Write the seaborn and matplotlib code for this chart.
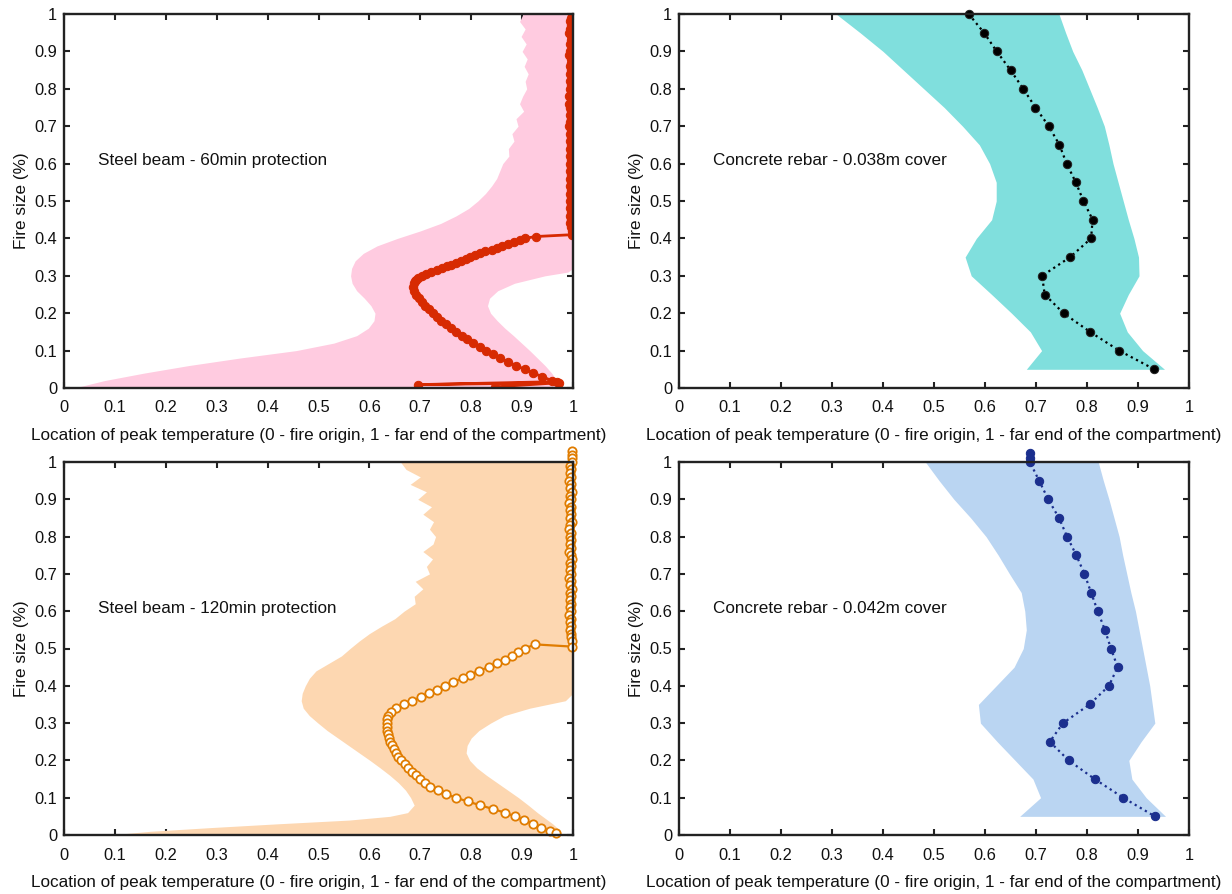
import matplotlib
matplotlib.use("Agg")
import matplotlib.pyplot as plt
import seaborn as sns

# ---------------- data ----------------
tick_vals = [0, 0.1, 0.2, 0.3, 0.4, 0.5, 0.6, 0.7, 0.8, 0.9, 1.0]
tick_labels = ["0", "0.1", "0.2", "0.3", "0.4", "0.5", "0.6", "0.7", "0.8", "0.9", "1"]

xlabel_text = "Location of peak temperature (0 - fire origin, 1 - far end of the compartment)"
ylabel_text = "Fire size (%)"
titles = ["Steel beam - 60min protection", "Concrete rebar - 0.038m cover",
          "Steel beam - 120min protection", "Concrete rebar - 0.042m cover"]

# Steel beam 60 min: mean location
s60_y = [1.00, 0.99, 0.98, 0.97, 0.96, 0.95, 0.94, 0.93, 0.92, 0.91,
         0.90, 0.89, 0.88, 0.87, 0.86, 0.85, 0.84, 0.83, 0.82, 0.81,
         0.80, 0.79, 0.78, 0.77, 0.76, 0.75, 0.74, 0.73, 0.72, 0.71,
         0.70, 0.69, 0.68, 0.67, 0.66, 0.65, 0.64, 0.63, 0.62, 0.61,
         0.60, 0.59, 0.58, 0.57, 0.56, 0.55, 0.54, 0.53, 0.52, 0.51,
         0.50, 0.49, 0.48, 0.47, 0.46, 0.45, 0.44, 0.43, 0.42, 0.41,
         0.405, 0.400, 0.395, 0.390, 0.385, 0.380, 0.375, 0.370, 0.365, 0.360,
         0.355, 0.350, 0.345, 0.340, 0.335, 0.330, 0.325, 0.320, 0.315, 0.310,
         0.305, 0.300, 0.295, 0.290, 0.285, 0.280,
         0.27, 0.26, 0.25, 0.24, 0.23, 0.22, 0.21, 0.20, 0.19, 0.18,
         0.17, 0.16, 0.15, 0.14, 0.13, 0.12, 0.11, 0.10, 0.09, 0.08,
         0.07, 0.06, 0.05, 0.04, 0.03, 0.02,
         0.017, 0.009, 0.014, 0.003]
s60_x = [0.999, 0.996, 0.994, 0.997, 0.995, 0.993, 0.997, 0.996, 0.994, 0.998,
         0.995, 0.993, 0.996, 0.997, 0.994, 0.996, 0.995, 0.998, 0.994, 0.996,
         0.995, 0.997, 0.993, 0.996, 0.992, 0.995, 0.997, 0.994, 0.996, 0.995,
         0.993, 0.997, 0.995, 0.996, 0.994, 0.997, 0.995, 0.996, 0.994, 0.997,
         0.995, 0.996, 0.994, 0.997, 0.995, 0.996, 0.994, 0.997, 0.995, 0.996,
         0.994, 0.997, 0.995, 0.996, 0.994, 0.997, 0.995, 0.996, 0.998, 0.999,
         0.927, 0.905, 0.895, 0.885, 0.872, 0.860, 0.850, 0.840, 0.828, 0.818,
         0.808, 0.798, 0.790, 0.780, 0.770, 0.760, 0.752, 0.742, 0.732, 0.722,
         0.712, 0.704, 0.696, 0.692, 0.689, 0.687,
         0.686, 0.688, 0.692, 0.697, 0.703, 0.710, 0.717, 0.724, 0.732, 0.741,
         0.750, 0.760, 0.770, 0.781, 0.792, 0.804, 0.817, 0.830, 0.843, 0.857,
         0.872, 0.888, 0.905, 0.922, 0.940, 0.958,
         0.969, 0.695, 0.972, 0.846]

# Steel beam 60 min: band of locations
s60_band_y = [1.00, 0.98, 0.96, 0.94, 0.92, 0.90, 0.88, 0.86, 0.84, 0.82,
              0.80, 0.78, 0.76, 0.74, 0.72, 0.70, 0.68, 0.66, 0.64, 0.62,
              0.60, 0.58, 0.56, 0.54, 0.52, 0.50, 0.48, 0.46, 0.44, 0.42,
              0.40, 0.38, 0.36, 0.34, 0.32, 0.31, 0.30, 0.28, 0.26, 0.24,
              0.22, 0.20, 0.18, 0.16, 0.14, 0.12, 0.10, 0.08, 0.06, 0.04,
              0.02, 0.00]
s60_band_lo = [0.902, 0.895, 0.906, 0.898, 0.908, 0.900, 0.910, 0.904, 0.912, 0.906,
               0.909, 0.901, 0.895, 0.903, 0.888, 0.892, 0.880, 0.884, 0.873, 0.874,
               0.862, 0.856, 0.850, 0.840, 0.828, 0.813, 0.795, 0.770, 0.740, 0.700,
               0.655, 0.615, 0.588, 0.572, 0.565, 0.564, 0.563, 0.566, 0.575, 0.590,
               0.603, 0.611, 0.609, 0.598, 0.575, 0.530, 0.456, 0.345, 0.245, 0.158,
               0.080, 0.020]
s60_band_hi = [1.0, 1.0, 1.0, 1.0, 1.0, 1.0, 1.0, 1.0, 1.0, 1.0,
               1.0, 1.0, 1.0, 1.0, 1.0, 1.0, 1.0, 1.0, 1.0, 1.0,
               1.0, 1.0, 1.0, 1.0, 1.0, 1.0, 1.0, 1.0, 1.0, 1.0,
               1.0, 1.0, 1.0, 1.0, 1.0, 0.990, 0.945, 0.885, 0.852, 0.836,
               0.832, 0.838, 0.851, 0.866, 0.883, 0.899, 0.915, 0.930, 0.945, 0.958,
               0.968, 0.972]

# Steel beam 120 min: mean location
s120_y = [1.03, 1.02, 1.01, 1.00, 0.99, 0.98, 0.97, 0.96, 0.95, 0.94,
          0.93, 0.92, 0.91, 0.90, 0.89, 0.88, 0.87, 0.86, 0.85, 0.84,
          0.83, 0.82, 0.81, 0.80, 0.79, 0.78, 0.77, 0.76, 0.75, 0.74,
          0.73, 0.72, 0.71, 0.70, 0.69, 0.68, 0.67, 0.66, 0.65, 0.64,
          0.63, 0.62, 0.61, 0.60, 0.59, 0.58, 0.57, 0.56, 0.55, 0.54,
          0.53, 0.52, 0.505,
          0.511, 0.50, 0.49, 0.48, 0.47, 0.46, 0.45, 0.44, 0.43, 0.42,
          0.41, 0.40, 0.39, 0.38, 0.37, 0.36, 0.35, 0.34, 0.33, 0.32,
          0.31, 0.30, 0.29, 0.28, 0.27, 0.26, 0.25, 0.24, 0.23, 0.22,
          0.21, 0.20, 0.19, 0.18, 0.17, 0.16, 0.15, 0.14, 0.13, 0.12,
          0.11, 0.10, 0.09, 0.08, 0.07, 0.06, 0.05, 0.04, 0.03, 0.02,
          0.01, 0.005]
s120_x = [0.999, 0.999, 0.999, 0.998, 0.995, 0.997, 0.994, 0.996, 0.993, 0.997,
          0.995, 0.998, 0.994, 0.996, 0.993, 0.997, 0.995, 0.996, 0.994, 0.998,
          0.995, 0.993, 0.997, 0.995, 0.996, 0.994, 0.997, 0.993, 0.996, 0.998,
          0.994, 0.996, 0.995, 0.997, 0.993, 0.996, 0.994, 0.998, 0.995, 0.996,
          0.994, 0.997, 0.995, 0.996, 0.993, 0.997, 0.995, 0.996, 0.994, 0.997,
          0.996, 0.998, 0.999,
          0.926, 0.905, 0.892, 0.880, 0.866, 0.851, 0.834, 0.815, 0.798, 0.783,
          0.764, 0.748, 0.733, 0.718, 0.702, 0.684, 0.668, 0.652, 0.642, 0.637,
          0.635, 0.634, 0.634, 0.635, 0.636, 0.638, 0.641, 0.644, 0.648, 0.652,
          0.657, 0.663, 0.669, 0.676, 0.684, 0.692, 0.700, 0.710, 0.720, 0.734,
          0.750, 0.770, 0.793, 0.817, 0.842, 0.866, 0.886, 0.904, 0.921, 0.938,
          0.955, 0.966]

# Steel beam 120 min: band of locations
s120_band_y = [1.00, 0.98, 0.96, 0.94, 0.92, 0.90, 0.88, 0.86, 0.84, 0.82,
               0.80, 0.78, 0.76, 0.74, 0.72, 0.70, 0.68, 0.66, 0.64, 0.62,
               0.60, 0.58, 0.56, 0.54, 0.52, 0.50, 0.48, 0.46, 0.44, 0.42,
               0.40, 0.38, 0.36, 0.34, 0.32, 0.30, 0.28, 0.26, 0.24, 0.22,
               0.20, 0.18, 0.16, 0.14, 0.12, 0.10, 0.08, 0.06, 0.05, 0.04,
               0.03, 0.02, 0.01, 0.00]
s120_band_lo = [0.661, 0.672, 0.700, 0.680, 0.712, 0.695, 0.722, 0.705, 0.726, 0.718,
                0.730, 0.725, 0.705, 0.724, 0.712, 0.718, 0.690, 0.705, 0.688, 0.690,
                0.668, 0.650, 0.624, 0.600, 0.580, 0.562, 0.545, 0.520, 0.495, 0.482,
                0.474, 0.468, 0.466, 0.470, 0.482, 0.499, 0.517, 0.538, 0.559, 0.580,
                0.601, 0.621, 0.640, 0.657, 0.671, 0.681, 0.688, 0.675, 0.640, 0.560,
                0.420, 0.290, 0.170, 0.090]
s120_band_hi = [1.0, 1.0, 1.0, 1.0, 1.0, 1.0, 1.0, 1.0, 1.0, 1.0,
                1.0, 1.0, 1.0, 1.0, 1.0, 1.0, 1.0, 1.0, 1.0, 1.0,
                1.0, 1.0, 1.0, 1.0, 1.0, 1.0, 1.0, 1.0, 1.0, 1.0,
                1.0, 1.0, 0.985, 0.915, 0.865, 0.838, 0.815, 0.800, 0.792, 0.790,
                0.797, 0.811, 0.830, 0.851, 0.872, 0.893, 0.912, 0.930, 0.940, 0.950,
                0.960, 0.968, 0.975, 0.979]

# Concrete rebar, 0.038 m cover
c038_y = [1.00, 0.95, 0.90, 0.85, 0.80, 0.75, 0.70, 0.65, 0.60, 0.55,
          0.50, 0.45, 0.40, 0.35, 0.30, 0.25, 0.20, 0.15, 0.10, 0.05]
c038_x = [0.568, 0.598, 0.623, 0.650, 0.675, 0.699, 0.725, 0.746, 0.760, 0.778,
          0.793, 0.811, 0.808, 0.767, 0.712, 0.717, 0.754, 0.806, 0.863, 0.932]
c038_lo = [0.308, 0.355, 0.400, 0.440, 0.480, 0.520, 0.556, 0.589, 0.609, 0.622,
           0.622, 0.613, 0.583, 0.561, 0.573, 0.613, 0.652, 0.689, 0.711, 0.681]
c038_hi = [0.745, 0.758, 0.772, 0.790, 0.805, 0.820, 0.834, 0.843, 0.851, 0.861,
           0.871, 0.881, 0.892, 0.901, 0.902, 0.881, 0.864, 0.879, 0.909, 0.952]

# Concrete rebar, 0.042 m cover
c042_y = [1.025, 1.012, 1.00, 0.95, 0.90, 0.85, 0.80, 0.75, 0.70, 0.65, 0.60, 0.55,
          0.50, 0.45, 0.40, 0.35, 0.30, 0.25, 0.20, 0.15, 0.10, 0.05]
c042_x = [0.688, 0.688, 0.688, 0.706, 0.724, 0.745, 0.761, 0.779, 0.795, 0.808, 0.821, 0.835,
          0.847, 0.860, 0.843, 0.805, 0.753, 0.727, 0.764, 0.815, 0.871, 0.933]
c042_band_y = [1.00, 0.95, 0.90, 0.85, 0.80, 0.75, 0.70, 0.65, 0.60, 0.55,
               0.50, 0.45, 0.40, 0.35, 0.30, 0.25, 0.20, 0.15, 0.10, 0.05]
c042_lo = [0.483, 0.510, 0.539, 0.572, 0.602, 0.626, 0.648, 0.671, 0.678, 0.681,
           0.675, 0.657, 0.622, 0.587, 0.591, 0.624, 0.659, 0.694, 0.709, 0.668]
c042_hi = [0.822, 0.832, 0.843, 0.853, 0.863, 0.870, 0.878, 0.886, 0.895, 0.902,
           0.909, 0.916, 0.923, 0.928, 0.933, 0.906, 0.882, 0.888, 0.916, 0.954]

# ---------------- style ----------------
sns.set_theme(style="ticks")
plt.rcParams["font.family"] = ["Liberation Sans", "DejaVu Sans"]
plt.rcParams.update({
    "axes.linewidth": 1.7,
    "axes.edgecolor": "#222222",
    "xtick.direction": "in",
    "ytick.direction": "in",
    "xtick.top": True,
    "ytick.right": True,
    "xtick.major.size": 4,
    "ytick.major.size": 4,
    "xtick.major.width": 1.5,
    "ytick.major.width": 1.5,
    "xtick.color": "#222222",
    "ytick.color": "#222222",
    "xtick.labelcolor": "#111111",
    "ytick.labelcolor": "#111111",
    "xtick.labelsize": 11.8,
    "ytick.labelsize": 11.8,
    "xtick.major.pad": 9,
    "ytick.major.pad": 5,
})

RED = "#d72a02"
PINK = "#ffcbe0"
ORANGE = "#e07c00"
PEACH = "#fdd7b1"
TEAL = "#80dfdd"
LBLUE = "#bad5f2"
NAVY = "#1b2f8e"

LABEL_FS = 12.3

fig = plt.figure(figsize=(12.32, 8.94), dpi=100)
W, H = 1232.0, 894.0
ax_tl = fig.add_axes([64 / W, 1 - 388 / H, 509 / W, 374 / H])
ax_tr = fig.add_axes([679 / W, 1 - 388 / H, 510 / W, 374 / H])
ax_bl = fig.add_axes([64 / W, 1 - 835 / H, 509 / W, 373 / H])
ax_br = fig.add_axes([679 / W, 1 - 835 / H, 510 / W, 373 / H])


def style(ax, title):
    ax.set_xlim(0, 1)
    ax.set_ylim(0, 1)
    ax.set_xticks(tick_vals)
    ax.set_xticklabels(tick_labels)
    ax.set_yticks(tick_vals)
    ax.set_yticklabels(tick_labels)
    ax.set_xlabel(xlabel_text, fontsize=LABEL_FS, color="#111111", labelpad=9)
    ax.set_ylabel(ylabel_text, fontsize=LABEL_FS, color="#111111", labelpad=4)
    ax.text(0.067, 0.607, title, fontsize=LABEL_FS, color="#111111",
            ha="left", va="center", transform=ax.transData)
    for sp in ax.spines.values():
        sp.set_visible(True)
        sp.set_zorder(5)


# Top-left: steel 60 min
ax_tl.fill_betweenx(s60_band_y, s60_band_lo, s60_band_hi, color=PINK, linewidth=0)
sns.lineplot(x=s60_x, y=s60_y, sort=False, estimator=None, ax=ax_tl, color=RED,
             linewidth=2.0, marker="o", markersize=6, markeredgecolor=RED,
             markerfacecolor=RED, legend=False, zorder=3)
style(ax_tl, titles[0])

# Top-right: concrete 0.038 m
ax_tr.fill_betweenx(c038_y, c038_lo, c038_hi, color=TEAL, linewidth=0)
sns.lineplot(x=c038_x, y=c038_y, sort=False, estimator=None, ax=ax_tr, color="black",
             linewidth=1.6, linestyle=":", marker="o", markersize=6,
             markeredgecolor="#222222", markerfacecolor="black", legend=False,
             zorder=3, clip_on=False)
style(ax_tr, titles[1])

# Bottom-left: steel 120 min
ax_bl.fill_betweenx(s120_band_y, s120_band_lo, s120_band_hi, color=PEACH, linewidth=0)
sns.lineplot(x=s120_x, y=s120_y, sort=False, estimator=None, ax=ax_bl, color=ORANGE,
             linewidth=1.6, marker="o", markersize=6, markeredgecolor=ORANGE,
             markerfacecolor="white", markeredgewidth=1.3, legend=False,
             zorder=3, clip_on=False)
style(ax_bl, titles[2])

# Bottom-right: concrete 0.042 m
ax_br.fill_betweenx(c042_band_y, c042_lo, c042_hi, color=LBLUE, linewidth=0)
sns.lineplot(x=c042_x, y=c042_y, sort=False, estimator=None, ax=ax_br, color=NAVY,
             linewidth=1.6, linestyle=":", marker="o", markersize=6,
             markeredgecolor=NAVY, markerfacecolor=NAVY, legend=False,
             zorder=3, clip_on=False)
style(ax_br, titles[3])

fig.savefig("out.png", dpi=100)
